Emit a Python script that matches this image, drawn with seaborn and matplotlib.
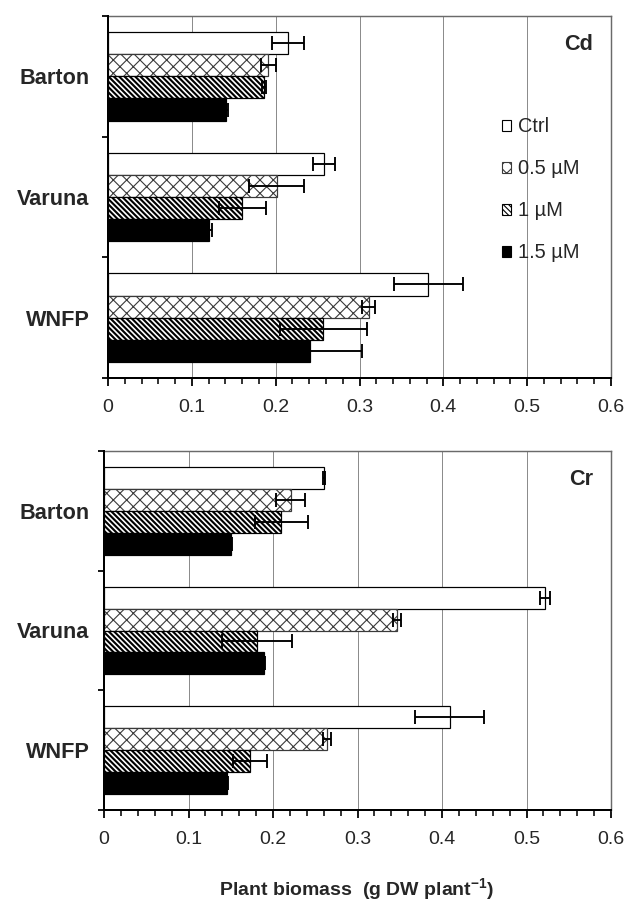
import numpy as np
import pandas as pd
import matplotlib
matplotlib.use("Agg")
import matplotlib.pyplot as plt
from matplotlib.patches import Patch
from matplotlib.ticker import MultipleLocator
import seaborn as sns

# ---------------- data ----------------
cultivars = ["Barton", "Varuna", "WNFP"]
treatments = ["Ctrl", "0.5 µM", "1 µM", "1.5 µM"]

cd_ctrl = [0.215, 0.258, 0.382]
cd_05 = [0.191, 0.201, 0.311]
cd_1 = [0.186, 0.160, 0.257]
cd_15 = [0.141, 0.120, 0.241]
cd_ctrl_err = [0.019, 0.013, 0.041]
cd_05_err = [0.009, 0.033, 0.008]
cd_1_err = [0.002, 0.028, 0.052]
cd_15_err = [0.002, 0.004, 0.062]

cr_ctrl = [0.260, 0.522, 0.409]
cr_05 = [0.221, 0.347, 0.264]
cr_1 = [0.210, 0.181, 0.173]
cr_15 = [0.150, 0.189, 0.145]
cr_ctrl_err = [0.001, 0.006, 0.041]
cr_05_err = [0.017, 0.005, 0.005]
cr_1_err = [0.031, 0.041, 0.020]
cr_15_err = [0.002, 0.002, 0.002]

xticks = [0, 0.1, 0.2, 0.3, 0.4, 0.5, 0.6]
xtick_labels = ["0", "0.1", "0.2", "0.3", "0.4", "0.5", "0.6"]

panels = [
    ("Cd", [cd_ctrl, cd_05, cd_1, cd_15], [cd_ctrl_err, cd_05_err, cd_1_err, cd_15_err]),
    ("Cr", [cr_ctrl, cr_05, cr_1, cr_15], [cr_ctrl_err, cr_05_err, cr_1_err, cr_15_err]),
]

# ---------------- style ----------------
sns.set_style("white")
DPI = 80
plt.rcParams["font.family"] = ["Liberation Sans", "DejaVu Sans"]
plt.rcParams["mathtext.fontset"] = "custom"
plt.rcParams["mathtext.rm"] = "Liberation Sans"
plt.rcParams["mathtext.bf"] = "Liberation Sans:bold"
plt.rcParams["hatch.linewidth"] = 1.0

face = ["white", "white", "white", "black"]
hatches = ["", "xx", "\\" * 5, ""]
edges = ["black", "#3a3a3a", "black", "black"]
hatch_lw = [1.0, 1.0, 1.9, 1.0]

fig = plt.figure(figsize=(629 / DPI, 903 / DPI), dpi=DPI)
positions = [
    [108 / 629, 1 - 378 / 903, 503 / 629, 362 / 903],
    [104 / 629, 1 - 810 / 903, 507 / 629, 359 / 903],
]
label_pads = [16.5, 13.0]

for (metal, vals, errs), pos, lpad in zip(panels, positions, label_pads):
    ax = fig.add_axes(pos)
    rows = []
    for t, v in zip(treatments, vals):
        for c, val in zip(cultivars, v):
            rows.append({"cultivar": c, "treatment": t, "value": val})
    df = pd.DataFrame(rows)
    sns.barplot(data=df, x="value", y="cultivar", hue="treatment",
                order=cultivars, hue_order=treatments, orient="h",
                palette=face, saturation=1, width=0.733, errorbar=None,
                edgecolor="black", linewidth=1.1, legend=False, ax=ax,
                zorder=2)
    bar_conts = list(ax.containers)
    for i, cont in enumerate(bar_conts):
        for bar in cont:
            bar.set_hatch(hatches[i])
            bar.set_edgecolor(edges[i])
            if hasattr(bar, "set_hatch_linewidth"):
                bar.set_hatch_linewidth(hatch_lw[i])
        centers = [b.get_y() + b.get_height() / 2 for b in cont]
        ax.errorbar(vals[i], centers, xerr=errs[i], fmt="none",
                    ecolor="black", elinewidth=1.7, capsize=6.5,
                    capthick=1.7, zorder=5)

    ax.set_xlim(0, 0.6)
    ax.set_ylim(2.5, -0.5)
    ax.set_xticks(xticks)
    ax.set_xticklabels(xtick_labels, fontsize=17.5)
    ax.xaxis.set_minor_locator(MultipleLocator(0.02))
    ax.tick_params(axis="x", which="major", direction="out", length=7,
                   width=1.6, color="black", pad=12, bottom=True)
    ax.tick_params(axis="x", which="minor", direction="out", length=5,
                   width=1.4, color="black", bottom=True)
    ax.set_yticks([-0.5, 0.5, 1.5, 2.5])
    ax.set_yticklabels(["", "", "", ""])
    ax.set_yticks([0, 1, 2], minor=True)
    ax.set_yticklabels(cultivars, minor=True, fontsize=19.5, fontweight="bold")
    ax.tick_params(axis="y", which="major", direction="out", length=5,
                   width=1.6, color="black", left=True)
    ax.tick_params(axis="y", which="minor", length=0, pad=lpad, left=True)
    ax.grid(axis="x", which="major", color="#8c8c8c", linewidth=0.9, zorder=0)
    ax.grid(axis="y", visible=False)
    ax.set_axisbelow(True)
    ax.set_xlabel("")
    ax.set_ylabel("")
    for s in ["left", "bottom"]:
        ax.spines[s].set_color("black")
        ax.spines[s].set_linewidth(1.8)
        ax.spines[s].set_zorder(6)
    for s in ["top", "right"]:
        ax.spines[s].set_color("#6a6a6a")
        ax.spines[s].set_linewidth(1.3)
    ax.text(0.965, 0.92 if metal == "Cd" else 0.92, metal,
            transform=ax.transAxes, ha="right", va="center",
            fontsize=19.5, fontweight="bold")

    if metal == "Cd":
        handles = [Patch(facecolor=face[i], edgecolor=edges[i],
                         hatch=hatches[i], linewidth=1.0)
                   for i in range(4)]
        leg = ax.legend(handles, treatments, loc="upper left",
                        bbox_to_anchor=(0.783, 0.72), frameon=False,
                        fontsize=18, handlelength=0.45, handleheight=0.45,
                        handletextpad=0.35, labelspacing=1.15,
                        borderpad=0, borderaxespad=0)

fig.text(357 / 629, 1 - 890 / 903,
         r"Plant biomass  (g DW plant$^{\mathbf{-1}}$)",
         ha="center", va="center", fontsize=17.5, fontweight="bold")

fig.savefig("out.png", dpi=DPI)
